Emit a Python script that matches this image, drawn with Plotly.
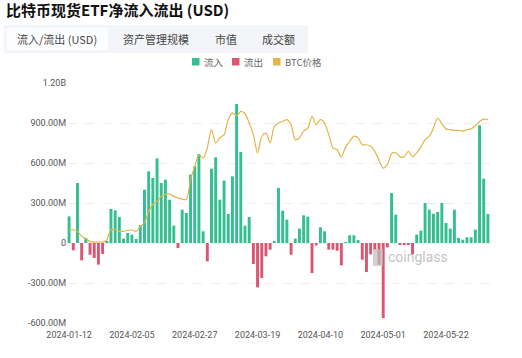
import pandas as pd
import plotly.graph_objects as go

# ---------------- data ----------------
holidays = ["2024-01-15", "2024-02-19", "2024-03-29", "2024-05-27"]
dates = [d.strftime("%Y-%m-%d") for d in pd.bdate_range("2024-01-12", "2024-06-06")
         if d.strftime("%Y-%m-%d") not in holidays]

# net flow, millions USD
net_flow_m = [200, -55, 450, -130, 38, -88, -112, -162, -82, 15,
              255, 245, 195, 33, 75, 63, 30, 135, 400, 538,
              488, 635, 450, 475, 325, 130, -38, 250, 225, 513,
              575, 668, 88, -138, 558, 643, 325, 468, 218, 500,
              1043, 683, 130, 195, -158, -333, -263, -100, -50, 15,
              413, 243, 175, -88, 33, 108, 208, 198, -225, -18,
              118, 88, -50, -50, -58, -168, 5, 58, 58, 22,
              -125, -218, -85, -50, -162, -563, -33, 375, 213, -15,
              -10, -10, -84, 63, 93, 300, 250, 220, 233, 300,
              150, 108, 250, 38, 25, 43, 43, 100, 883, 483, 218]

btc_price = [42500, 42500, 42100, 40800, 40200, 39500, 39300, 39300, 39300, 39900,
             42500, 42500, 42100, 42100, 42300, 42500, 42100, 43400, 44300, 47200,
             49000, 49800, 51100, 51700, 51700, 51100, 50700, 50400, 50300, 55400,
             58800, 61800, 61000, 63600, 68300, 64900, 66200, 67000, 70900, 72600,
             71900, 73000, 72400, 70000, 67000, 62300, 66600, 67400, 64900, 69100,
             70000, 70400, 70900, 69600, 65700, 66200, 67900, 68700, 71700, 69600,
             70900, 70000, 67000, 63600, 63100, 61300, 63800, 65300, 66600, 66200,
             64400, 64400, 64000, 62700, 60400, 58400, 59300, 62100, 62400, 61300,
             61300, 62700, 61300, 62300, 63800, 65700, 66600, 68700, 71300, 69800,
             68500, 68300, 68100, 68100, 67900, 68300, 68500, 69300, 70400, 71000, 70900]

y_tick_vals = [-600e6, -300e6, 0, 300e6, 600e6, 900e6, 1.2e9]
y_tick_text = ["-600.00M", "-300.00M", "0", "300.00M", "600.00M", "900.00M", "1.20B"]
tab_labels = ["流入/流出 (USD)", "资产管理规模", "市值", "成交额"]
legend_labels = ["流入", "流出", "BTC价格"]
title_text = "比特币现货ETF净流入流出 (USD)"

# ---------------- styling ----------------
GREEN = "#34BF91"
RED = "#DB5670"
GOLD = "#E3B44A"
W, H = 522, 358
ML, MR, MT, MB = 67, 32, 83, 35
PW, PH = W - ML - MR, H - MT - MB


def px(x):
    return (x - ML) / PW


def py(y):
    return (H - MB - y) / PH


inflow = [v * 1e6 if v >= 0 else None for v in net_flow_m]
outflow = [v * 1e6 if v < 0 else None for v in net_flow_m]

fig = go.Figure()
fig.add_trace(go.Bar(x=dates, y=inflow, marker=dict(color=GREEN, line=dict(width=0)),
                     name=legend_labels[0]))
fig.add_trace(go.Bar(x=dates, y=outflow, marker=dict(color=RED, line=dict(width=0)),
                     name=legend_labels[1]))
fig.add_trace(go.Scatter(x=dates, y=btc_price, yaxis="y2", mode="lines",
                         line=dict(color=GOLD, width=1.2, shape="spline", smoothing=0.8),
                         name=legend_labels[2]))

tick_dates = dates[::15]

fig.update_layout(
    width=W, height=H,
    margin=dict(l=ML, r=MR, t=MT, b=MB, pad=0),
    paper_bgcolor="white", plot_bgcolor="white",
    barmode="relative", bargap=0.3,
    showlegend=False,
    font=dict(family="Roboto, 'Noto Sans CJK SC', sans-serif", size=9, color="#555"),
    xaxis=dict(type="category", tickvals=tick_dates, ticktext=tick_dates,
               showgrid=False, zeroline=False, showline=False, ticks="",
               tickangle=0, tickfont=dict(size=9, color="#555"), ticklabelstandoff=5,
               range=[-0.5, len(dates) - 0.5]),
    yaxis=dict(range=[-600e6, 1.2e9], tickvals=y_tick_vals, ticktext=y_tick_text,
               showgrid=True, gridcolor="#EDEDED", griddash="dash", gridwidth=1,
               zeroline=False, showline=False, ticks="",
               tickfont=dict(size=9, color="#555")),
    yaxis2=dict(range=[18465, 80320], overlaying="y", side="right", visible=False),
)

shapes = []
annotations = []

# title
annotations.append(dict(text="<b>%s</b>" % title_text, xref="paper", yref="paper",
                        x=px(4), y=py(9), xanchor="left", yanchor="middle", showarrow=False,
                        font=dict(family="'Noto Sans CJK SC', sans-serif", size=15, color="#111")))

# tab bar
shapes.append(dict(type="rect", xref="paper", yref="paper", x0=px(4), x1=px(308),
                   y0=py(53), y1=py(25), fillcolor="#F3F5F8", line=dict(width=0), layer="below"))
shapes.append(dict(type="rect", xref="paper", yref="paper", x0=px(7), x1=px(108),
                   y0=py(50), y1=py(28), fillcolor="#FCFDFE", line=dict(width=0), layer="below"))
tab_centers = [57, 156, 226, 278]
for lab, cx in zip(tab_labels, tab_centers):
    annotations.append(dict(text=lab, xref="paper", yref="paper", x=px(cx), y=py(38.5),
                            xanchor="center", yanchor="middle", showarrow=False,
                            font=dict(family="'Noto Sans CJK SC', sans-serif", size=11, color="#444")))

# legend
leg_items = [(192, GREEN, legend_labels[0]), (232, RED, legend_labels[1]), (273, GOLD, legend_labels[2])]
for x0, col, lab in leg_items:
    shapes.append(dict(type="rect", xref="paper", yref="paper", x0=px(x0), x1=px(x0 + 7.5),
                       y0=py(65.5), y1=py(58), fillcolor=col, line=dict(width=0)))
    annotations.append(dict(text=lab, xref="paper", yref="paper", x=px(x0 + 10), y=py(62),
                            xanchor="left", yanchor="middle", showarrow=False,
                            font=dict(family="'Noto Sans CJK SC', sans-serif", size=9.5, color="#666")))

# coinglass watermark
shapes.append(dict(type="rect", xref="paper", yref="paper", x0=px(373), x1=px(383),
                   y0=py(266), y1=py(249), fillcolor="rgba(190,190,190,0.7)", line=dict(width=0)))
annotations.append(dict(text="coinglass", xref="paper", yref="paper", x=px(386), y=py(257),
                        xanchor="left", yanchor="middle", showarrow=False,
                        font=dict(family="Roboto, sans-serif", size=14, color="rgba(185,185,185,0.85)")))

fig.update_layout(shapes=shapes, annotations=annotations)
fig.write_html("out.html", config={"displayModeBar": False},
               post_script="document.body.style.margin='0';document.body.style.padding='0';")
